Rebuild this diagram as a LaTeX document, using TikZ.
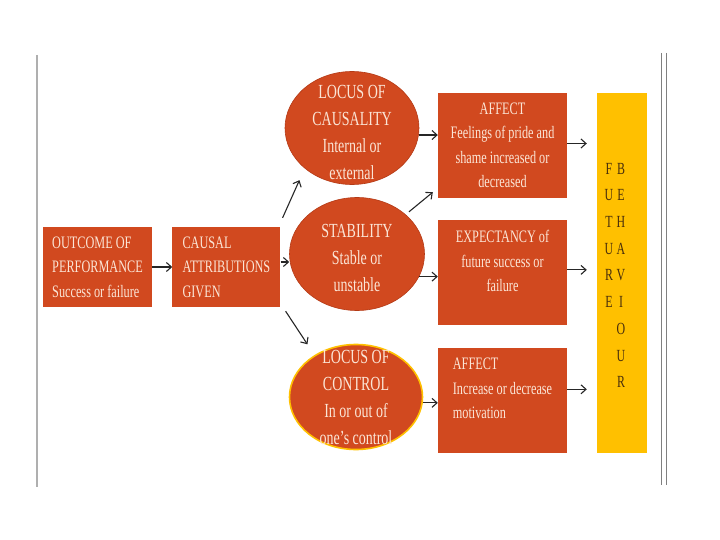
\documentclass[tikz,border=0pt]{standalone}
\usepackage{fontspec}
\setmainfont{Liberation Serif}[FakeStretch=0.7]
\usepackage{xcolor}
\usepackage{tikz}
\usetikzlibrary{arrows.meta,positioning,shapes.geometric}
\definecolor{causeorange}{RGB}{209,73,31}
\definecolor{causeedge}{RGB}{180,58,22}
\definecolor{causetext}{RGB}{251,229,214}
\definecolor{futureyellow}{RGB}{255,192,0}
\definecolor{futuretext}{RGB}{72,46,12}
\definecolor{framegray}{RGB}{175,175,175}
\tikzset{
  causebox/.style={
    rectangle,
    fill=causeorange,
    text=causetext,
    inner sep=0pt,
    font=\fontsize{17.5}{24.5}\selectfont
  },
  causeellipse/.style={
    ellipse,
    fill=causeorange,
    draw=causeedge,
    line width=0.6pt,
    text=causetext,
    align=center,
    inner xsep=0pt,
    inner ysep=-14pt,
    font=\fontsize{20}{27}\selectfont
  },
  futurebar/.style={
    rectangle,
    fill=futureyellow,
    minimum width=50pt,
    minimum height=360pt,
    inner sep=0pt
  },
  futureletters/.style={
    text=futuretext,
    align=center,
    inner sep=0pt,
    font=\fontsize{17}{26.7}\selectfont
  },
  causearrow/.style={
    -{Straight Barb[length=5pt,width=9pt]},
    line width=1.1pt,
    draw=black!85
  }
}

\begin{document}
\begin{tikzpicture}[x=1pt,y=-1pt,node distance=20pt and 20pt]
\useasboundingbox (0,0) rectangle (720,540);
\draw[framegray, line width=1.2pt] (37,55) -- (37,487);
\draw[gray, line width=0.8pt] (661.5,53) -- (661.5,485);
\draw[gray, line width=0.8pt] (666,53) -- (666,485);

\node[causebox, minimum width=109pt, minimum height=80pt, align=left] (outcome) at (97.5,267) {OUTCOME OF\\PERFORMANCE\\Success or failure};
\node[causebox, minimum width=108pt, minimum height=80pt, align=left, right=of outcome] (causal) {CAUSAL\\ATTRIBUTIONS\\GIVEN};

\node[causeellipse, minimum width=134pt, minimum height=113pt, text height=103pt] (cause) at (352,128) {LOCUS OF\\CAUSALITY\\Internal or\\external};
\node[causeellipse, minimum width=135pt, minimum height=113pt, text height=75pt] (stab) at (357,254) {STABILITY\\Stable or\\unstable};
\node[causeellipse, minimum width=133pt, minimum height=105pt, draw=futureyellow, line width=1.6pt] (control) at (356,397) {LOCUS OF\\CONTROL\\In or out of\\one's control};

\node[causebox, minimum width=129pt, minimum height=105pt, align=center] (affectA) at (502.5,145.5) {AFFECT\\Feelings of pride and\\shame increased or\\decreased};
\node[causebox, minimum width=129pt, minimum height=105pt, align=center, text depth=24pt, below=22pt of affectA] (expect) {EXPECTANCY of\\future success or\\failure};
\node[causebox, minimum width=129pt, minimum height=105pt, align=left, text depth=24pt, below=22pt of expect] (affectB) {AFFECT\\Increase or decrease\\motivation};

\node[futurebar] (future) at (622,273) {};
\node[futureletters, anchor=north] (futureL) at ([xshift=-13pt,yshift=-70pt]future.north) {F\\U\\T\\U\\R\\E};
\node[futureletters, anchor=north] (futureR) at ([xshift=-1pt,yshift=-70pt]future.north) {B\\E\\H\\A\\V\\I\\O\\U\\R};

\draw[causearrow] (outcome) -- (causal);
\draw[causearrow] ([shift={(2pt,9pt)}]causal.north east) -- ([shift={(-5pt,-12pt)}]cause.south west);
\draw[causearrow] ([yshift=5pt]causal.east) -- ([yshift=5pt]causal.east -| stab.west);
\draw[causearrow] ([shift={(5pt,-4pt)}]causal.south east) -- ([shift={(-1pt,15pt)}]control.north west);
\draw[causearrow] (cause.-6) -- (cause.-6 -| affectA.west);
\draw[causearrow] ([shift={(4pt,2pt)}]stab.north east) -- ([shift={(-5pt,6pt)}]affectA.south west);
\draw[causearrow] (stab.-20) -- (stab.-20 -| expect.west);
\draw[causearrow] (control.-5) -- (control.-5 -| affectB.west);
\draw[causearrow, shorten >=10pt] ([yshift=2pt]affectA.east) -- ([yshift=2pt]affectA.east -| future.west);
\draw[causearrow, shorten >=10pt] ([yshift=3pt]expect.east) -- ([yshift=3pt]expect.east -| future.west);
\draw[causearrow, shorten >=10pt] ([yshift=11pt]affectB.east) -- ([yshift=11pt]affectB.east -| future.west);
\end{tikzpicture}
\end{document}
